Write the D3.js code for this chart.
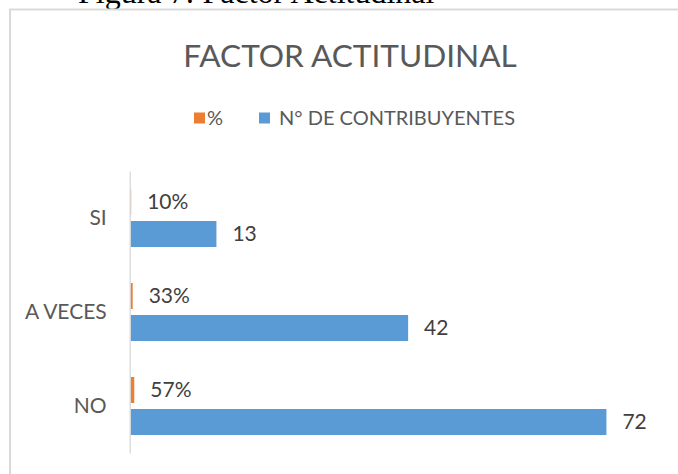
<!DOCTYPE html>
<html>
<head>
<meta charset="utf-8">
<script src="https://cdn.jsdelivr.net/npm/d3@7"></script>
<style>
  html, body { margin: 0; padding: 0; background: #fff; overflow: hidden; }
  svg { display: block; font-family: Lato, "Open Sans", sans-serif; }
</style>
</head>
<body>
<svg id="chart"></svg>
<script>
const categories = ["SI", "A VECES", "NO"];
const seriesNames = ["%", "N° DE CONTRIBUYENTES"];
const pctValues = [0.10, 0.33, 0.57];
const pctLabels = ["10%", "33%", "57%"];
const countValues = [13, 42, 72];
const xDomain = [0, 80];

const width = 678, height = 474;
const colors = { "%": "#ED7D31", "N° DE CONTRIBUYENTES": "#5B9BD5" };

const plot = { left: 130.5, right: 659.3, top: 171, bottom: 453 };

const svg = d3.select("#chart").attr("width", width).attr("height", height);

// caption of the figure, cut off by the top of the page
svg.append("text")
    .attr("x", 78)
    .attr("y", 2.5)
    .style("font-family", "'Liberation Serif', 'Times New Roman', serif")
    .style("font-size", "32px")
    .style("fill", "#000")
    .text("Figura 7: Factor Actitudinal");

// chart area border
svg.append("rect")
    .attr("x", 10).attr("y", 9.5)
    .attr("width", 720).attr("height", 520)
    .attr("fill", "none")
    .attr("stroke", "#d9d9d9")
    .attr("stroke-width", 2);

svg.append("text")
    .attr("x", 350)
    .attr("y", 67)
    .attr("text-anchor", "middle")
    .style("font-size", "31.6px")
    .style("fill", "#595959")
    .text("FACTOR ACTITUDINAL");

// legend
const legend = svg.append("g").attr("transform", "translate(0,118)");
const legendItems = [
    { name: seriesNames[0], sx: 194, tx: 207 },
    { name: seriesNames[1], sx: 259, tx: 279 }
];
legendItems.forEach(d => {
    legend.append("rect")
        .attr("x", d.sx).attr("y", -5.5)
        .attr("width", 11).attr("height", 11)
        .attr("fill", colors[d.name]);
    legend.append("text")
        .attr("x", d.tx).attr("y", 0)
        .attr("dy", "0.35em")
        .style("font-size", "20px")
        .style("fill", "#595959")
        .text(d.name);
});

const x = d3.scaleLinear().domain(xDomain).range([plot.left, plot.right]);
const y0 = d3.scaleBand().domain(categories).range([plot.top, plot.bottom]);
const y1 = d3.scaleBand().domain(seriesNames)
    .range([18, y0.bandwidth() - 18])
    .paddingInner(0.1875);

const rows = categories.map((c, i) => ({
    cat: c,
    bars: [
        { name: seriesNames[0], value: pctValues[i], label: pctLabels[i] },
        { name: seriesNames[1], value: countValues[i], label: String(countValues[i]) }
    ]
}));

const groups = svg.append("g").selectAll("g")
    .data(rows)
    .join("g")
    .attr("transform", d => `translate(0,${y0(d.cat)})`);

groups.selectAll("rect")
    .data(d => d.bars)
    .join("rect")
    .attr("x", x(0))
    .attr("y", d => y1(d.name))
    .attr("width", d => x(d.value) - x(0))
    .attr("height", y1.bandwidth())
    .attr("fill", d => colors[d.name]);

groups.selectAll("text.value")
    .data(d => d.bars)
    .join("text")
    .attr("class", "value")
    .attr("x", d => x(d.value) + 16)
    .attr("y", d => y1(d.name) + y1.bandwidth() / 2)
    .attr("dy", "0.35em")
    .style("font-size", "21px")
    .style("fill", "#404040")
    .text(d => d.label);

// category axis
const yAxis = svg.append("g")
    .attr("transform", `translate(${plot.left - 0.8},0)`)
    .call(d3.axisLeft(y0).tickSize(0).tickPadding(23));
yAxis.select(".domain").attr("stroke", "#d9d9d9").attr("stroke-width", 1.3);
yAxis.selectAll("text")
    .style("font-family", "Lato, 'Open Sans', sans-serif")
    .style("font-size", "21px")
    .style("fill", "#595959");
</script>
</body>
</html>
